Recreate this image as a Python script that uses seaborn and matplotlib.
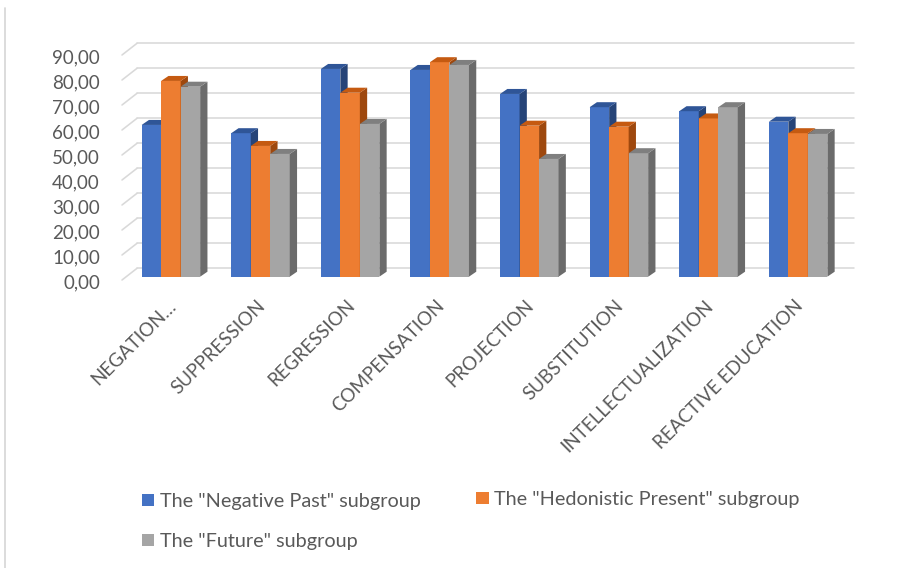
import numpy as np
import pandas as pd
import matplotlib
matplotlib.use("Agg")
import matplotlib.pyplot as plt
import matplotlib.transforms as mtransforms
from matplotlib.patches import Polygon, Patch
from matplotlib.lines import Line2D
import seaborn as sns

# ---------------- data ----------------
categories = ["NEGATION…", "SUPPRESSION", "REGRESSION", "COMPENSATION",
              "PROJECTION", "SUBSTITUTION", "INTELLECTUALIZATION", "REACTIVE EDUCATION"]
negative_past = [60.7, 57.4, 83.1, 82.7, 73.1, 67.8, 66.2, 62.0]
hedonistic_present = [78.3, 52.3, 73.6, 85.8, 60.4, 60.0, 63.3, 57.4]
future = [76.0, 49.1, 61.1, 84.7, 47.1, 49.4, 67.8, 57.1]
series_names = ['The "Negative Past" subgroup',
                'The "Hedonistic Present" subgroup',
                'The "Future" subgroup']
y_ticks = [0, 10, 20, 30, 40, 50, 60, 70, 80, 90]
y_tick_labels = ["0,00", "10,00", "20,00", "30,00", "40,00",
                 "50,00", "60,00", "70,00", "80,00", "90,00"]

front_colors = ["#4472C4", "#ED7D31", "#A5A5A5"]
top_colors = ["#2F5597", "#C55A11", "#7F7F7F"]
side_colors = ["#264478", "#9E480E", "#6B6B6B"]
text_color = "#595959"
grid_color = "#D9D9D9"

df = pd.DataFrame({
    "category": categories * 3,
    "series": sum([[n] * len(categories) for n in series_names], []),
    "value": negative_past + hedonistic_present + future,
})

# ---------------- figure ----------------
sns.set_theme(style="white")
plt.rcParams["font.family"] = ["Lato", "DejaVu Sans"]

W, H = 912, 568
DPI = 100
fig = plt.figure(figsize=(W / DPI, H / DPI), dpi=DPI)

ax_left_px, ax_right_px = 126.1, 842.9
ax_bottom_px, ax_top_px = 276.7, 51.7  # from top of image
ax = fig.add_axes([ax_left_px / W, (H - ax_bottom_px) / H,
                   (ax_right_px - ax_left_px) / W, (ax_bottom_px - ax_top_px) / H])

sns.barplot(data=df, x="category", y="value", hue="series", order=categories,
            hue_order=series_names, palette=front_colors, saturation=1,
            width=0.653, gap=0, legend=False, ax=ax, err_kws={"linewidth": 0})

ax.set_xlim(-0.5, len(categories) - 0.5)
ax.set_ylim(0, 90)
for s in ax.spines.values():
    s.set_visible(False)
ax.set_xlabel("")
ax.set_ylabel("")

px = 72.0 / DPI  # points per pixel
def off(dx_px, dy_px):
    return mtransforms.ScaledTranslation(dx_px / DPI, dy_px / DPI, fig.dpi_scale_trans)

inv = fig.transFigure.inverted()

# back-wall gridlines (offset up-right) and floor diagonals
wall_dx, wall_dy = 10.9, 8.4
for v in y_ticks:
    ax.add_line(Line2D([-0.5, len(categories) - 0.5], [v, v],
                       transform=ax.transData + off(wall_dx, wall_dy),
                       color=grid_color, lw=1.6 * px, zorder=0.5, clip_on=False))
    x0d, y0d = ax.transData.transform((-0.5, v))
    bx, by = x0d + wall_dx, y0d + wall_dy
    fx, fy = bx - 15.0, by - 11.7
    p = inv.transform([(bx, by), (fx, fy)])
    fig.add_artist(Line2D(p[:, 0], p[:, 1], transform=fig.transFigure,
                          color=grid_color, lw=1.6 * px, zorder=0.5))

# y tick labels
ax.set_yticks(y_ticks)
ax.set_yticklabels(y_tick_labels)
ax.tick_params(axis="y", length=0, pad=26.1 * px, labelsize=13.5, labelcolor=text_color)
for lab in ax.get_yticklabels():
    lab.set_transform(lab.get_transform() + off(0, -5.0))

# x tick labels
ax.set_xticks(range(len(categories)))
ax.set_xticklabels(categories, rotation=45, ha="right", va="top",
                   rotation_mode="anchor")
ax.tick_params(axis="x", length=0, pad=20 * px, labelsize=13.5, labelcolor=text_color)
for lab in ax.get_xticklabels():
    lab.set_transform(lab.get_transform() + off(-4.0, 0.0))

# 3D extrusion of bars (side and top faces)
depth_dx, depth_dy = 7.3, 5.0
bar_patches = [p for p in ax.patches if p.get_height() > 0]
for patch in bar_patches:
    fc = matplotlib.colors.to_hex(patch.get_facecolor())
    k = [c.lower() for c in front_colors].index(fc.lower())
    patch.set_zorder(3 + k)
    patch.set_edgecolor("none")
    x0 = patch.get_x()
    x1 = x0 + patch.get_width()
    h = patch.get_height()
    (ax0, ay0), (ax1, ay1) = ax.transData.transform([(x0, 0), (x1, h)])
    side = [(ax1, ay0), (ax1, ay1), (ax1 + depth_dx, ay1 + depth_dy), (ax1 + depth_dx, ay0 + depth_dy)]
    top = [(ax0, ay1), (ax1, ay1), (ax1 + depth_dx, ay1 + depth_dy), (ax0 + depth_dx, ay1 + depth_dy)]
    ax.add_patch(Polygon(inv.transform(side), closed=True, transform=fig.transFigure,
                         facecolor=side_colors[k], edgecolor="none", zorder=3 + k, clip_on=False))
    ax.add_patch(Polygon(inv.transform(top), closed=True, transform=fig.transFigure,
                         facecolor=top_colors[k], edgecolor="none", zorder=3 + k, clip_on=False))

# legend (two column blocks, row-wise order)
fs_leg = 14.3
fs_px = fs_leg / px
handles = [Patch(facecolor=c, edgecolor="none") for c in front_colors]
leg_kw = dict(frameon=False, fontsize=fs_leg, handlelength=12.6 / fs_px,
              handleheight=11.0 / fs_px, handletextpad=5.7 / fs_px,
              borderpad=0, borderaxespad=0, labelcolor=text_color)
leg1 = fig.legend([handles[0], handles[2]], [series_names[0], series_names[2]],
                  loc="center left", bbox_to_anchor=(141.7 / W, (H - 521.5) / H),
                  labelspacing=1.15, **leg_kw)
leg2 = fig.legend([handles[1]], [series_names[1]],
                  loc="center left", bbox_to_anchor=(476.0 / W, (H - 500.0) / H),
                  **leg_kw)

# chart-area left border
fig.add_artist(Line2D([5.5 / W, 5.5 / W], [0, (H - 8) / H], transform=fig.transFigure,
                      color="#D9D9D9", lw=1.8 * px))

fig.savefig("out.png", dpi=DPI)
